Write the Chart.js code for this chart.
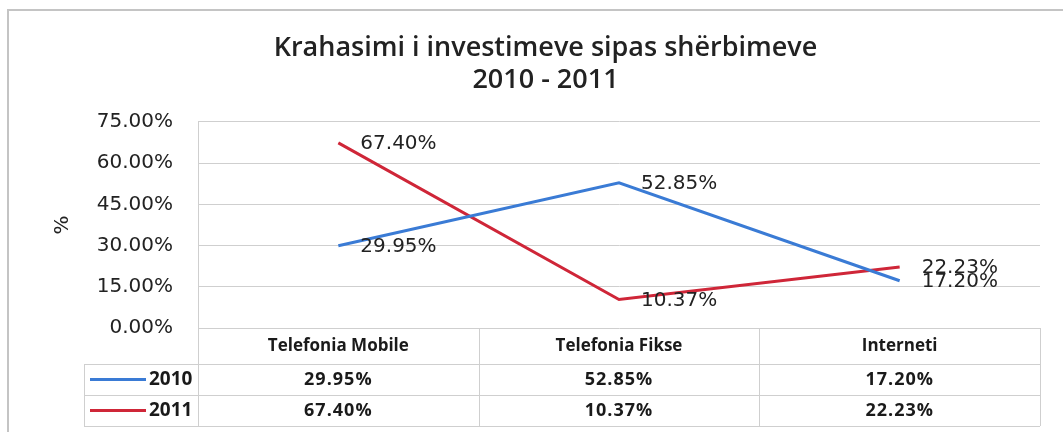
<!DOCTYPE html>
<html>
<head>
<meta charset="utf-8">
<script src="https://cdn.jsdelivr.net/npm/chart.js@4/dist/chart.umd.min.js"></script>
<style>
  html, body { margin: 0; padding: 0; background: #fff; }
  #wrap { width: 1063px; height: 432px; position: relative; }
</style>
</head>
<body>
<div id="wrap"><canvas id="chart" width="1063" height="432"></canvas></div>
<script>
const categories = ['Telefonia Mobile', 'Telefonia Fikse', 'Interneti'];
const seriesNames = ['2010', '2011'];
const values2010 = [29.95, 52.85, 17.20];
const values2011 = [67.40, 10.37, 22.23];
const seriesColors = ['#3a7bd5', '#cf2638'];
const yMax = 75;
const yStep = 15;

const pct = v => v.toFixed(2) + '%';
const gridColor = '#cfcfcf';

// value labels next to each point, like the excel data labels
const pointLabels = {
    id: 'pointLabels',
    afterDatasetsDraw(chart) {
        const ctx = chart.ctx;
        ctx.save();
        ctx.font = '20px "DejaVu Sans"';
        ctx.fillStyle = '#222';
        ctx.textAlign = 'left';
        ctx.textBaseline = 'middle';
        chart.data.datasets.forEach((ds, i) => {
            chart.getDatasetMeta(i).data.forEach((pt, j) => {
                ctx.fillText(pct(ds.data[j]), pt.x + 22, pt.y + 1);
            });
        });
        ctx.restore();
    }
};

// data table under the plot + outer frame
const dataTable = {
    id: 'dataTable',
    afterDraw(chart) {
        const ctx = chart.ctx;
        const area = chart.chartArea;
        const x = chart.scales.x;
        const half = (x.getPixelForValue(1) - x.getPixelForValue(0)) / 2;
        const headerBottom = area.bottom + 36;
        const rowH = 31;
        const legendLeft = 84;
        const tableBottom = headerBottom + rowH * seriesNames.length;

        ctx.save();
        // frame
        ctx.strokeStyle = '#c4c4c4';
        ctx.lineWidth = 2;
        ctx.beginPath();
        ctx.moveTo(8, 432);
        ctx.lineTo(8, 10);
        ctx.lineTo(1063, 10);
        ctx.stroke();

        ctx.strokeStyle = gridColor;
        ctx.lineWidth = 1;
        ctx.beginPath();
        for (let r = 0; r <= seriesNames.length; r++) {
            const y = Math.round(headerBottom + r * rowH) + 0.5;
            ctx.moveTo(legendLeft, y);
            ctx.lineTo(area.right, y);
        }
        categories.forEach((c, i) => {
            const xl = Math.round(x.getPixelForValue(i) - half) + 0.5;
            ctx.moveTo(xl, area.bottom);
            ctx.lineTo(xl, tableBottom);
        });
        ctx.moveTo(Math.round(area.right) + 0.5, area.bottom);
        ctx.lineTo(Math.round(area.right) + 0.5, tableBottom);
        ctx.moveTo(legendLeft + 0.5, headerBottom);
        ctx.lineTo(legendLeft + 0.5, tableBottom);
        ctx.stroke();

        ctx.fillStyle = '#1a1a1a';
        ctx.textAlign = 'center';
        ctx.textBaseline = 'middle';
        ctx.font = '700 17px "Open Sans"';
        categories.forEach((c, i) => {
            ctx.fillText(c, x.getPixelForValue(i), (area.bottom + headerBottom) / 2);
        });

        chart.data.datasets.forEach((ds, r) => {
            const yc = headerBottom + rowH * r + rowH / 2;
            ctx.font = '700 18px "Open Sans"';
            ctx.letterSpacing = '1px';
            ctx.textAlign = 'center';
            ds.data.forEach((v, i) => {
                ctx.fillText(pct(v), x.getPixelForValue(i), yc);
            });
            ctx.letterSpacing = '0px';
            ctx.strokeStyle = ds.borderColor;
            ctx.lineWidth = 3;
            ctx.beginPath();
            ctx.moveTo(90, yc);
            ctx.lineTo(146, yc);
            ctx.stroke();
            ctx.font = '700 19px "Open Sans"';
            ctx.textAlign = 'left';
            ctx.fillText(ds.label, 149, yc);
        });
        ctx.restore();
    }
};

new Chart(document.getElementById('chart'), {
    type: 'line',
    data: {
        labels: categories,
        datasets: [
            { label: seriesNames[0], data: values2010, borderColor: seriesColors[0], backgroundColor: seriesColors[0] },
            { label: seriesNames[1], data: values2011, borderColor: seriesColors[1], backgroundColor: seriesColors[1] }
        ]
    },
    options: {
        responsive: false,
        animation: false,
        elements: {
            line: { borderWidth: 3, tension: 0 },
            point: { radius: 0, hoverRadius: 0 }
        },
        layout: { padding: { left: 51, right: 23, top: 0, bottom: 104 } },
        plugins: {
            legend: { display: false },
            tooltip: { enabled: false },
            title: {
                display: true,
                text: ['Krahasimi i investimeve sipas shërbimeve', '2010 - 2011'],
                color: '#222',
                font: { family: '"Open Sans"', size: 27, weight: '600', lineHeight: 1.185 },
                padding: { top: 32, bottom: 26 }
            }
        },
        scales: {
            x: {
                offset: true,
                ticks: { display: false },
                grid: { display: false },
                border: { display: false },
                afterFit(scale) { scale.height = 0; }
            },
            y: {
                min: 0,
                max: yMax,
                ticks: {
                    stepSize: yStep,
                    padding: 25,
                    color: '#222',
                    font: { family: '"DejaVu Sans"', size: 20 },
                    callback: v => pct(v)
                },
                grid: { color: gridColor, drawTicks: false },
                border: { color: gridColor },
                title: {
                    display: true,
                    text: '%',
                    color: '#222',
                    font: { family: '"DejaVu Sans"', size: 20 },
                    padding: 0
                },
                afterFit(scale) { scale.width = 147; }
            }
        }
    },
    plugins: [pointLabels, dataTable]
});
</script>
</body>
</html>
